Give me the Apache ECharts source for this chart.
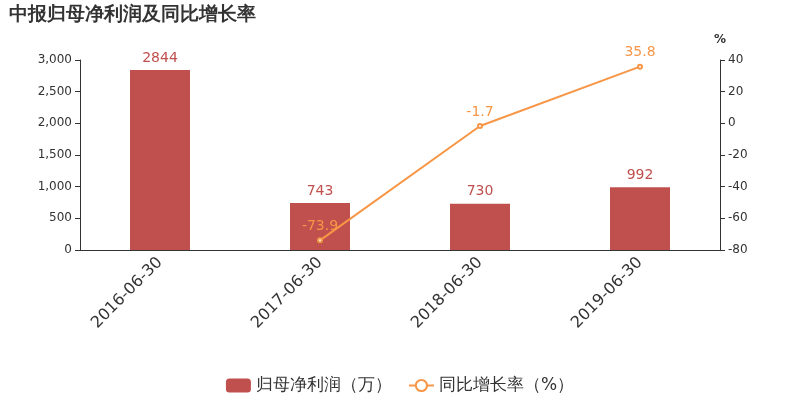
<!DOCTYPE html>
<html><head><meta charset="utf-8">
<script src="https://cdn.jsdelivr.net/npm/echarts@6/dist/echarts.min.js"></script>
<style>html,body{margin:0;padding:0;background:#fff}#c{width:800px;height:400px}</style>
</head><body><div id="c"></div>
<script>
const categories = ['2016-06-30','2017-06-30','2018-06-30','2019-06-30'];
const profit = [2844, 743, 730, 992];
const growth = [null, -73.9, -1.7, 35.8];
const chart = echarts.init(document.getElementById('c'));
const font = 'DejaVu Sans';
chart.setOption({
  animation: false,
  textStyle: {fontFamily: font},
  title: {text: '中报归母净利润及同比增长率', left: 4, top: 1,
    textStyle: {fontSize: 19, fontWeight: 'bold', color: '#333', fontFamily: font}},
  legend: {bottom: 1, left: 'center', itemWidth: 25, itemHeight: 14, itemGap: 16,
    textStyle: {fontSize: 17, color: '#333'},
    data: [{name: '归母净利润（万）'}, {name: '同比增长率（%）'}]},
  grid: {left: 80, right: 80, top: 60, bottom: 150},
  xAxis: {type: 'category', data: categories,
    axisLine: {lineStyle: {color: '#333'}}, axisTick: {lineStyle: {color: '#333'}},
    axisLabel: {rotate: 45, fontSize: 16, color: '#333', margin: 10}},
  yAxis: [
    {type: 'value', min: 0, max: 3000, interval: 500, splitLine: {show: false},
      axisLine: {show: true, lineStyle: {color: '#333'}}, axisTick: {show: true},
      axisLabel: {fontSize: 12, color: '#333'}},
    {type: 'value', min: -80, max: 40, interval: 20, name: '%', nameGap: 14,
      nameTextStyle: {fontSize: 12, color: '#333', fontWeight: 'bold'},
      splitLine: {show: false},
      axisLine: {show: true, lineStyle: {color: '#333'}}, axisTick: {show: true},
      axisLabel: {fontSize: 12, color: '#333'}}
  ],
  series: [
    {name: '归母净利润（万）', type: 'bar', data: profit, barWidth: 60,
      itemStyle: {color: '#c0504d'},
      label: {show: true, position: 'top', fontSize: 14, color: '#c0504d', distance: 5}},
    {name: '同比增长率（%）', type: 'line', yAxisIndex: 1, data: growth,
      symbol: 'emptyCircle', symbolSize: 4, showSymbol: true,
      itemStyle: {color: '#f79646'}, lineStyle: {color: '#f79646', width: 2},
      label: {show: true, position: 'top', fontSize: 14, color: '#f79646', distance: 4}}
  ]
});
</script></body></html>
